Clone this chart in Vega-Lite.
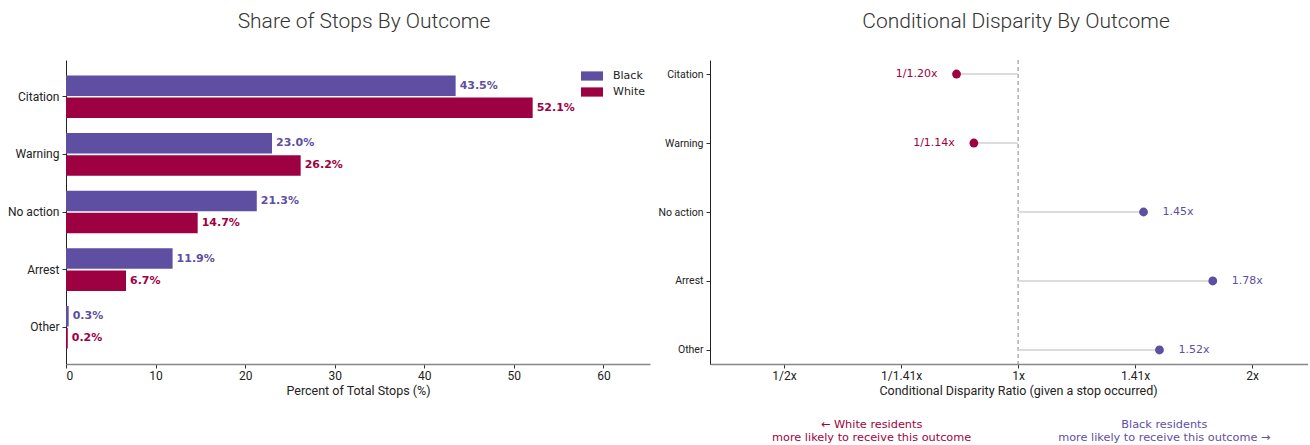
{
  "$schema": "https://vega.github.io/schema/vega-lite/v6.json",
  "padding": {"left": 7, "top": 10, "right": 0, "bottom": 0},
  "background": "white",
  "datasets": {
    "shares": [
      {"outcome": "Citation", "race": "Black", "pct": 43.5, "label": "43.5%"},
      {"outcome": "Citation", "race": "White", "pct": 52.1, "label": "52.1%"},
      {"outcome": "Warning", "race": "Black", "pct": 23.0, "label": "23.0%"},
      {"outcome": "Warning", "race": "White", "pct": 26.2, "label": "26.2%"},
      {"outcome": "No action", "race": "Black", "pct": 21.3, "label": "21.3%"},
      {"outcome": "No action", "race": "White", "pct": 14.7, "label": "14.7%"},
      {"outcome": "Arrest", "race": "Black", "pct": 11.9, "label": "11.9%"},
      {"outcome": "Arrest", "race": "White", "pct": 6.7, "label": "6.7%"},
      {"outcome": "Other", "race": "Black", "pct": 0.3, "label": "0.3%"},
      {"outcome": "Other", "race": "White", "pct": 0.2, "label": "0.2%"}
    ],
    "ratios": [
      {"outcome": "Citation", "ratio": 0.8333, "base": 1, "label": "1/1.20x"},
      {"outcome": "Warning", "ratio": 0.8772, "base": 1, "label": "1/1.14x"},
      {"outcome": "No action", "ratio": 1.45, "base": 1, "label": "1.45x"},
      {"outcome": "Arrest", "ratio": 1.78, "base": 1, "label": "1.78x"},
      {"outcome": "Other", "ratio": 1.52, "base": 1, "label": "1.52x"}
    ],
    "reference": [{"ratio": 1}],
    "notes": [
      {"side": "White", "pos": 0.648, "note": "← White residents\nmore likely to receive this outcome"},
      {"side": "Black", "pos": 1.542, "note": "Black residents\nmore likely to receive this outcome →"}
    ]
  },
  "resolve": {"scale": {"color": "independent"}, "legend": {"color": "independent"}},
  "hconcat": [
    {
      "title": {"text": "Share of Stops By Outcome", "dx": 6},
      "width": 584,
      "height": 304,
      "data": {"name": "shares"},
      "encoding": {
        "y": {
          "field": "outcome", "type": "nominal",
          "sort": ["Citation", "Warning", "No action", "Arrest", "Other"],
          "scale": {"paddingInner": 0.26, "paddingOuter": 0.267},
          "axis": {"title": null, "domainColor": "#222", "labelPadding": 3}
        },
        "yOffset": {
          "field": "race", "type": "nominal", "sort": ["Black", "White"],
          "scale": {"paddingInner": 0.07}
        },
        "x": {
          "field": "pct", "type": "quantitative",
          "scale": {"domain": [0, 65.2], "nice": false},
          "axis": {"values": [0, 10, 20, 30, 40, 50, 60], "title": "Percent of Total Stops (%)", "domainColor": "#888", "domainWidth": 1.5, "labelPadding": 2, "titlePadding": 3}
        },
        "color": {
          "field": "race", "type": "nominal",
          "scale": {"domain": ["Black", "White"], "range": ["#5e4fa2", "#9e0142"]},
          "legend": {
            "title": null, "orient": "top-right", "offset": 5,
            "symbolType": "M-1,-0.42L1,-0.42L1,0.42L-1,0.42Z",
            "symbolSize": 484, "symbolStrokeWidth": 0,
            "labelFontSize": 11, "labelFont": "DejaVu Sans", "labelColor": "#222",
            "rowPadding": -7, "labelOffset": 10
          }
        }
      },
      "layer": [
        {"mark": {"type": "bar"}},
        {
          "mark": {"type": "text", "align": "left", "dx": 4, "fontWeight": "bold", "fontSize": 11, "font": "DejaVu Sans"},
          "encoding": {"text": {"field": "label", "type": "nominal"}}
        }
      ]
    },
    {
      "vconcat": [
        {
          "title": {"text": "Conditional Disparity By Outcome", "dx": 7},
          "width": 598,
          "height": 304,
          "layer": [
            {
              "data": {"name": "reference"},
              "mark": {"type": "rule", "color": "#888", "strokeDash": [4, 3], "strokeWidth": 1},
              "encoding": {
                "x": {
                  "field": "ratio", "type": "quantitative",
                  "scale": {"type": "log", "domain": [0.4015, 2.36], "nice": false},
                  "axis": {
                    "values": [0.5, 0.70711, 1, 1.41421, 2],
                    "labelExpr": "datum.value < 0.6 ? '1/2x' : datum.value < 0.8 ? '1/1.41x' : datum.value < 1.2 ? '1x' : datum.value < 1.6 ? '1.41x' : '2x'",
                    "title": "Conditional Disparity Ratio (given a stop occurred)",
                    "titleX": 308,
                    "domainColor": "#888", "domainWidth": 1.5, "labelPadding": 2, "titlePadding": 3
                  }
                }
              }
            },
            {
              "data": {"name": "ratios"},
              "mark": {"type": "rule", "color": "#d0d0d0", "strokeWidth": 1.5},
              "encoding": {
                "x": {"field": "ratio", "type": "quantitative"},
                "x2": {"field": "base"},
                "y": {
                  "field": "outcome", "type": "nominal",
                  "sort": ["Citation", "Warning", "No action", "Arrest", "Other"],
                  "scale": {"type": "point", "padding": 0.203},
                  "axis": {"title": null, "domainColor": "#222", "labelPadding": 3, "labelFontSize": 10.5}
                }
              }
            },
            {
              "data": {"name": "ratios"},
              "mark": {"type": "circle", "size": 78, "opacity": 1},
              "encoding": {
                "x": {"field": "ratio", "type": "quantitative"},
                "y": {"field": "outcome", "type": "nominal", "sort": ["Citation", "Warning", "No action", "Arrest", "Other"]},
                "color": {"condition": {"test": "datum.ratio < 1", "value": "#9e0142"}, "value": "#5e4fa2"}
              }
            },
            {
              "data": {"name": "ratios"},
              "transform": [{"filter": "datum.ratio < 1"}],
              "mark": {"type": "text", "align": "right", "dx": -19, "fontSize": 11, "font": "DejaVu Sans", "color": "#9e0142"},
              "encoding": {
                "x": {"field": "ratio", "type": "quantitative"},
                "y": {"field": "outcome", "type": "nominal", "sort": ["Citation", "Warning", "No action", "Arrest", "Other"]},
                "text": {"field": "label", "type": "nominal"}
              }
            },
            {
              "data": {"name": "ratios"},
              "transform": [{"filter": "datum.ratio >= 1"}],
              "mark": {"type": "text", "align": "left", "dx": 19, "fontSize": 11, "font": "DejaVu Sans", "color": "#5e4fa2"},
              "encoding": {
                "x": {"field": "ratio", "type": "quantitative"},
                "y": {"field": "outcome", "type": "nominal", "sort": ["Citation", "Warning", "No action", "Arrest", "Other"]},
                "text": {"field": "label", "type": "nominal"}
              }
            }
          ]
        },
        {
          "width": 598,
          "height": 30,
          "data": {"name": "notes"},
          "mark": {"type": "text", "fontSize": 11.3, "font": "DejaVu Sans", "lineBreak": "\n", "lineHeight": 13},
          "encoding": {
            "x": {"field": "pos", "type": "quantitative", "scale": {"type": "log", "domain": [0.4015, 2.36], "nice": false}, "axis": null},
            "text": {"field": "note", "type": "nominal"},
            "color": {"condition": {"test": "datum.side == 'White'", "value": "#9e0142"}, "value": "#5e4fa2"}
          }
        }
      ],
      "spacing": 13
    }
  ],
  "spacing": 7,
  "config": {
    "view": {"stroke": null},
    "font": "Roboto",
    "axis": {
      "grid": false,
      "labelFont": "Roboto", "titleFont": "Roboto",
      "labelFontSize": 12, "titleFontSize": 12.5, "titleFontWeight": "normal",
      "labelColor": "#222", "titleColor": "#222",
      "tickColor": "#333", "tickSize": 4
    },
    "title": {"font": "Roboto", "fontSize": 21, "fontWeight": 300, "color": "#333", "anchor": "middle", "offset": 28}
  }
}
